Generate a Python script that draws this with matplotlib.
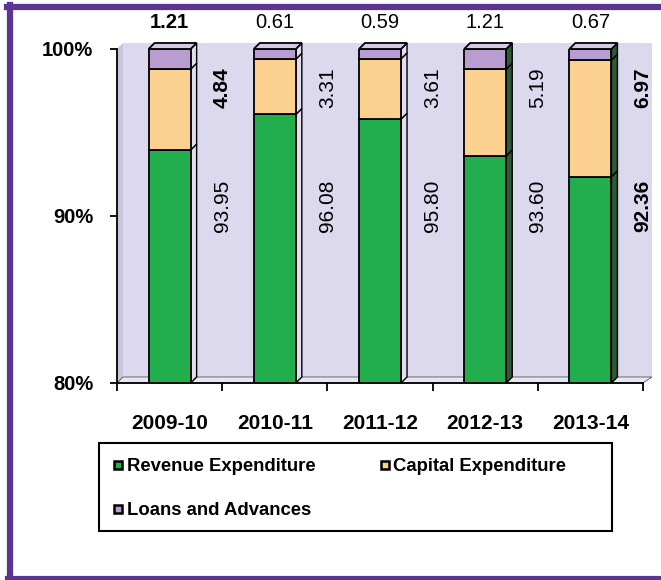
import numpy as np
import matplotlib
matplotlib.use('Agg')
import matplotlib.pyplot as plt
from matplotlib.patches import Polygon, Rectangle
from matplotlib.lines import Line2D

# ---- data ----
years = ['2009-10', '2010-11', '2011-12', '2012-13', '2013-14']
revenue = [93.95, 96.08, 95.80, 93.60, 92.36]
capital = [4.84, 3.31, 3.61, 5.19, 6.97]
loans = [1.21, 0.61, 0.59, 1.21, 0.67]
series_names = ['Revenue Expenditure', 'Capital Expenditure', 'Loans and Advances']
yticks = [80, 90, 100]
ytick_labels = ['80%', '90%', '100%']

plt.rcParams['font.family'] = ['Liberation Sans', 'DejaVu Sans']

W, H = 661, 580
fig = plt.figure(figsize=(W / 100, H / 100), dpi=100)
fig.patch.set_facecolor('white')
ax = fig.add_axes([117 / W, (H - 383) / H, (643 - 117) / W, (383 - 49) / H])
ax.set_xlim(-0.5, 4.5)
ax.set_ylim(80, 100)
ax.patch.set_visible(False)

col_rev = '#22AE4C'
col_cap = '#FCD08E'
col_loan = '#B99DD1'
col_top = '#D6C8E6'
side_cols = ['#E2DDF0', '#E2DDF0', '#E2DDF0', '#2E5A36', '#2E5A36']

dx, dy = 0.057, 0.36
ylo, yhi = ax.get_ylim()
x0, x1 = ax.get_xlim()
xr = x1 + 0.085

# back wall, side wall, floor
ax.add_patch(Polygon([(x0 + dx, ylo + dy), (x0 + dx, yhi + dy), (xr, yhi + dy), (xr, ylo + dy)],
                     closed=True, facecolor='#DCD8EE', edgecolor='none', zorder=0, clip_on=False))
ax.add_patch(Polygon([(x0, ylo), (x0, yhi), (x0 + dx, yhi + dy), (x0 + dx, ylo + dy)],
                     closed=True, facecolor='#C9C5DD', edgecolor='none', zorder=0, clip_on=False))
ax.add_patch(Polygon([(x0, ylo), (x0 + dx, ylo + dy), (xr, ylo + dy), (x1, ylo)],
                     closed=True, facecolor='#E9E6F3', edgecolor='#555555', lw=0.6, zorder=0.5, clip_on=False))

x = np.arange(len(years))
w = 0.4
rev = np.array(revenue)
cap = np.array(capital)
loa = np.array(loans)

ax.bar(x, rev, w, color=col_rev, edgecolor='black', linewidth=1.3, zorder=3)
ax.bar(x, cap, w, bottom=rev, color=col_cap, edgecolor='black', linewidth=1.3, zorder=3)
ax.bar(x, loa, w, bottom=rev + cap, color=col_loan, edgecolor='black', linewidth=1.3, zorder=3)

# 3D side and top faces derived from the data
for i in range(len(years)):
    xr_edge = x[i] + w / 2
    segs = [(max(0, ylo), rev[i]), (rev[i], rev[i] + cap[i]), (rev[i] + cap[i], rev[i] + cap[i] + loa[i])]
    for (a, b) in segs:
        a = max(a, ylo)
        ax.add_patch(Polygon([(xr_edge, a), (xr_edge + dx, a + dy), (xr_edge + dx, b + dy), (xr_edge, b)],
                             closed=True, facecolor=side_cols[i], edgecolor='black', lw=1.0,
                             zorder=2.5, clip_on=False))
    top = rev[i] + cap[i] + loa[i]
    ax.add_patch(Polygon([(x[i] - w / 2, top), (x[i] - w / 2 + dx, top + dy),
                          (xr_edge + dx, top + dy), (xr_edge, top)],
                         closed=True, facecolor=col_top, edgecolor='black', lw=1.3,
                         zorder=3.5, clip_on=False))

# value labels
for i in range(len(years)):
    bold_top = 'bold' if i == 0 else 'normal'
    bold_side = 'bold' if i in (0, 4) else 'normal'
    ax.text(x[i], 101.6, f'{loa[i]:.2f}', ha='center', va='center', fontsize=14.5,
            fontweight=bold_top, clip_on=False, zorder=5)
    ax.text(x[i] + 0.5, 97.7, f'{cap[i]:.2f}', ha='center', va='center', fontsize=15,
            rotation=90, fontweight=bold_side, zorder=5)
    ax.text(x[i] + 0.5, 90.6, f'{rev[i]:.2f}', ha='center', va='center', fontsize=15,
            rotation=90, fontweight='bold' if i == 4 else 'normal', zorder=5)

# axes styling
for s in ['top', 'right']:
    ax.spines[s].set_visible(False)
for s in ['left', 'bottom']:
    ax.spines[s].set_linewidth(1.3)
    ax.spines[s].set_zorder(4)
ax.set_yticks(yticks)
ax.set_yticklabels(ytick_labels, fontsize=14.5, fontweight='bold')
ax.tick_params(axis='y', length=5, width=1.3, pad=12)
ax.set_xticks(np.arange(-0.5, len(years), 1))
ax.set_xticklabels([])
ax.tick_params(axis='x', which='major', length=6, width=1.3)
ax.set_xticks(x, minor=True)
ax.set_xticklabels(years, minor=True, fontsize=15, fontweight='bold')
ax.tick_params(axis='x', which='minor', length=0, pad=22)

# legend with its own frame
fig.add_artist(Rectangle((99 / W, 1 - 531 / H), (612 - 99) / W, (531 - 443) / H,
                         transform=fig.transFigure, facecolor='white', edgecolor='black', lw=1.5))
colors = [col_rev, col_cap, col_loan]
handles = [Line2D([], [], marker='s', linestyle='none', markersize=6, markerfacecolor=c,
                  markeredgecolor='black', markeredgewidth=1.8) for c in colors]
order = [0, 2, 1]
fig.legend([handles[k] for k in order], [series_names[k] for k in order],
           loc='upper left', bbox_to_anchor=(93 / W, 1 - 440 / H), ncol=2, frameon=False,
           prop={'size': 13.3, 'weight': 'bold'}, borderpad=0.5, labelspacing=1.45,
           handlelength=0.7, handletextpad=0.12, columnspacing=3.4)

# purple page border
bc = '#5B3594'
fig.add_artist(Line2D([7 / W, 1], [1 - 7 / H, 1 - 7 / H], transform=fig.transFigure, color=bc, lw=4.5))
fig.add_artist(Line2D([10 / W, 10 / W], [1 - 5 / H, 1 - 578 / H], transform=fig.transFigure, color=bc, lw=4.5))
fig.add_artist(Line2D([7 / W, 1], [1 - 578 / H, 1 - 578 / H], transform=fig.transFigure, color=bc, lw=3))

fig.savefig('out.png', dpi=100)
